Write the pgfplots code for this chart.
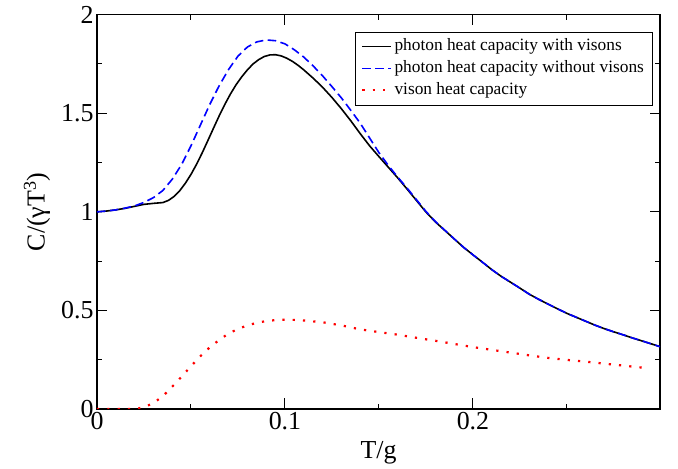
\documentclass[border=0pt]{standalone}
\usepackage{fontspec}
\setmainfont{Liberation Serif}
\usepackage{pgfplots}
\pgfplotsset{compat=1.18}
\begin{document}
\begin{tikzpicture}
\begin{axis}[
  name=ax, at={(0,0)}, anchor=south west,
  scale only axis, width=563bp, height=394.3bp,
  xmin=0, xmax=0.2995, ymin=0, ymax=2,
  xtick={0,0.1,0.2}, xticklabels={0,0.1,0.2},
  minor xtick={0.05,0.15,0.25},
  ytick={0,0.5,1,1.5,2}, yticklabels={0,0.5,1,1.5,2},
  minor ytick={0.25,0.75,1.25,1.75},
  /pgf/number format/assume math mode=true,
  tick align=inside, major tick length=10.5bp, minor tick length=5bp,
  every tick/.style={line width=1bp, black},
  axis line style={line width=1.2bp},
  ticklabel style={font=\fontsize{26}{28}\selectfont},
  xlabel={T/g}, ylabel={C/(γT\textsuperscript{3})},
  label style={font=\fontsize{26}{28}\selectfont},
  xlabel style={yshift=-4bp},
  ylabel shift=4bp,
  legend cell align=left,
  legend style={at={(0.986,0.957)}, anchor=north east,
    font=\fontsize{17.4}{20}\selectfont, inner xsep=6bp, inner ysep=4.5bp, row sep=2bp,
    nodes={inner sep=2bp, text height=12bp, text depth=4bp}},
  legend image code/.code={\draw[#1] (0bp,0bp) -- (22bp,0bp); \path (0bp,0bp) -- (29bp,0bp);},
]
\addplot[black, line width=1.6bp] coordinates {
(0.000,1.000) (0.005,1.004) (0.010,1.010) (0.015,1.018) (0.020,1.028) (0.025,1.038)
(0.030,1.043) (0.035,1.047) (0.038,1.058) (0.041,1.078) (0.044,1.107) (0.047,1.145)
(0.050,1.190) (0.053,1.242) (0.056,1.300) (0.059,1.362) (0.062,1.425) (0.065,1.487)
(0.068,1.545) (0.071,1.598) (0.074,1.645) (0.077,1.685) (0.080,1.720) (0.083,1.750)
(0.086,1.772) (0.089,1.788) (0.092,1.796) (0.095,1.797) (0.098,1.791) (0.101,1.779)
(0.104,1.763) (0.107,1.743) (0.110,1.720) (0.115,1.678) (0.120,1.632) (0.125,1.580)
(0.130,1.523) (0.135,1.462) (0.140,1.397) (0.145,1.335) (0.150,1.280) (0.155,1.226)
(0.160,1.172) (0.165,1.115) (0.170,1.057) (0.175,0.999) (0.180,0.949) (0.185,0.906)
(0.190,0.863) (0.195,0.820) (0.200,0.782) (0.205,0.745) (0.210,0.707) (0.215,0.673)
(0.220,0.643) (0.225,0.613) (0.230,0.582) (0.235,0.556) (0.240,0.532) (0.245,0.508)
(0.250,0.485) (0.255,0.465) (0.260,0.445) (0.265,0.425) (0.270,0.407) (0.275,0.391)
(0.280,0.376) (0.285,0.360) (0.290,0.345) (0.295,0.330) (0.2995,0.316)
};
\addlegendentry{photon heat capacity with visons}
\addplot[blue, line width=1.6bp, dash pattern=on 8.5bp off 4.5bp] coordinates {
(0.000,1.000) (0.005,1.004) (0.010,1.010) (0.015,1.019) (0.020,1.030) (0.025,1.048)
(0.030,1.072) (0.035,1.108) (0.040,1.165) (0.045,1.240) (0.050,1.335) (0.055,1.440)
(0.060,1.545) (0.065,1.640) (0.070,1.722) (0.075,1.790) (0.080,1.836) (0.085,1.862)
(0.090,1.872) (0.095,1.868) (0.100,1.852) (0.105,1.822) (0.110,1.785) (0.115,1.740)
(0.120,1.690) (0.125,1.635) (0.130,1.578) (0.135,1.515) (0.140,1.450) (0.145,1.375)
(0.150,1.300) (0.155,1.235) (0.160,1.176) (0.165,1.120) (0.170,1.061) (0.175,1.002)
(0.180,0.951) (0.185,0.907) (0.190,0.863) (0.195,0.820) (0.200,0.782) (0.205,0.745)
(0.210,0.707) (0.215,0.673) (0.220,0.643) (0.225,0.613) (0.230,0.582) (0.235,0.556)
(0.240,0.532) (0.245,0.508) (0.250,0.485) (0.255,0.465) (0.260,0.445) (0.265,0.425)
(0.270,0.407) (0.275,0.391) (0.280,0.376) (0.285,0.360) (0.290,0.345) (0.295,0.330)
(0.2995,0.316)
};
\addlegendentry{photon heat capacity without visons}
\addplot[red, line width=2.2bp, dash pattern=on 2.2bp off 8.1bp] coordinates {
(0.000,0.000) (0.005,0.000) (0.010,0.000) (0.015,0.000) (0.020,0.001) (0.022,0.003)
(0.025,0.009) (0.030,0.030) (0.035,0.065) (0.040,0.113) (0.045,0.164) (0.050,0.217)
(0.055,0.268) (0.060,0.313) (0.065,0.350) (0.070,0.383) (0.075,0.406) (0.080,0.424)
(0.085,0.437) (0.090,0.446) (0.095,0.451) (0.100,0.453) (0.105,0.452) (0.110,0.449)
(0.120,0.440) (0.130,0.424) (0.140,0.404) (0.150,0.390) (0.160,0.377) (0.170,0.361)
(0.180,0.346) (0.190,0.330) (0.200,0.314) (0.210,0.300) (0.220,0.286) (0.230,0.272)
(0.240,0.259) (0.250,0.249) (0.260,0.240) (0.270,0.230) (0.280,0.220) (0.290,0.210)
};
\addlegendentry{vison heat capacity}
\end{axis}
\pgfresetboundingbox
\path (-97bp,-60bp) rectangle (581bp,409bp);
\end{tikzpicture}
\end{document}
